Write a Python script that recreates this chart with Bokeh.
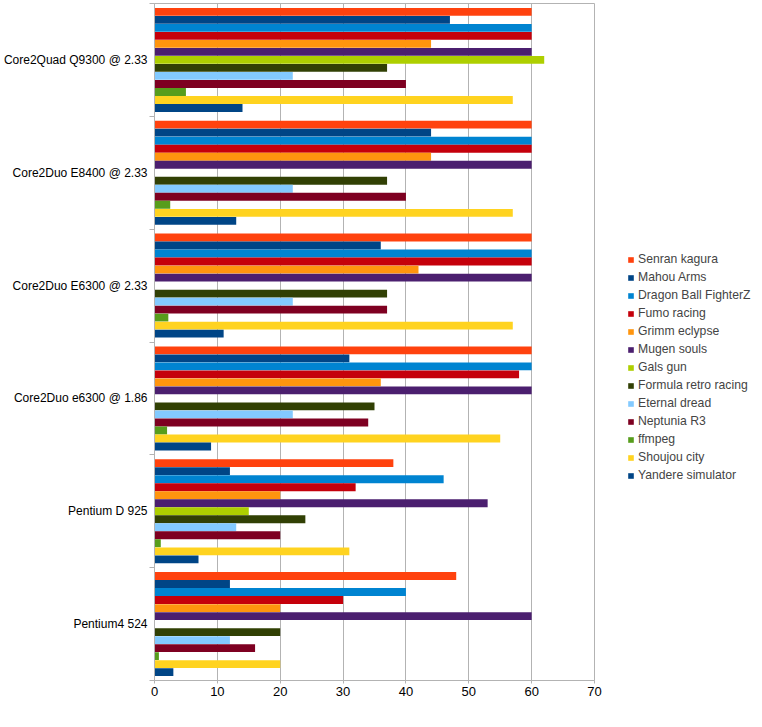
import numpy as np
from bokeh.plotting import figure
from bokeh.models import ColumnDataSource, FixedTicker, Legend, LegendItem
from bokeh.embed import file_html
from bokeh.resources import INLINE

# procesorji od zgoraj navzdol
cpus = ["Core2Quad Q9300 @ 2.33", "Core2Duo E8400 @ 2.33", "Core2Duo E6300 @ 2.33",
        "Core2Duo e6300 @ 1.86", "Pentium D 925", "Pentium4 524"]

games = ["Senran kagura", "Mahou Arms", "Dragon Ball FighterZ", "Fumo racing",
         "Grimm eclypse", "Mugen souls", "Gals gun", "Formula retro racing",
         "Eternal dread", "Neptunia R3", "ffmpeg", "Shoujou city", "Yandere simulator"]

barve = ["#ff420e", "#004586", "#0084d1", "#c5000b", "#ff950e", "#4b1f6f", "#aecf00",
         "#314004", "#83caff", "#7e0021", "#579d1c", "#ffd320", "#004586"]

# fps po igrah (vrstni red kot cpus), None = ni podatka
senran = [60, 60, 60, 60, 38, 48]
mahou = [47, 44, 36, 31, 12, 12]
dbfz = [60, 60, 60, 60, 46, 40]
fumo = [60, 60, 60, 58, 32, 30]
grimm = [44, 44, 42, 36, 20, 20]
mugen = [60, 60, 60, 60, 53, 60]
gals = [62, None, None, None, 15, None]
formula = [37, 37, 37, 35, 24, 20]
eternal = [22, 22, 22, 22, 13, 12]
neptunia = [40, 40, 37, 34, 20, 16]
ffmpeg = [5, 2.5, 2.2, 2, 1, 0.7]
shoujou = [57, 57, 57, 55, 31, 20]
yandere = [14, 13, 11, 9, 7, 3]

vrednosti = [senran, mahou, dbfz, fumo, grimm, mugen, gals, formula,
             eternal, neptunia, ffmpeg, shoujou, yandere]

n_cpu = len(cpus)
n_game = len(games)
visina = 0.071  # debelina enega stolpca v enotah skupine

p = figure(width=746, height=701, frame_width=440, frame_height=677,
           x_range=(0, 70), y_range=(0, n_cpu),
           output_backend="svg", toolbar_location=None,
           min_border_left=149, min_border_right=157,
           min_border_top=3, min_border_bottom=21)

# skupina 0 je zgoraj
centri = np.array([n_cpu - 0.5 - i for i in range(n_cpu)])

items = []
for j, (ime, vals, barva) in enumerate(zip(games, vrednosti, barve)):
    odmik = (n_game - 1) / 2 * visina - j * visina
    v = np.array([np.nan if x is None else x for x in vals], dtype=float)
    src = ColumnDataSource(data=dict(y=centri + odmik, x=v))
    r = p.hbar(y='y', right='x', left=0, height=visina * 0.98, source=src,
               fill_color=barva, line_color=None)
    items.append(LegendItem(label=ime, renderers=[r]))

siva = "#b3b3b3"
p.outline_line_color = siva
p.background_fill_color = "white"
p.border_fill_color = "white"

p.xaxis.ticker = FixedTicker(ticks=list(range(0, 80, 10)))
p.xgrid.grid_line_color = siva
p.ygrid.grid_line_color = None
p.xaxis.axis_line_color = siva
p.xaxis.major_tick_line_color = siva
p.xaxis.major_tick_out = 3
p.xaxis.major_tick_in = 0
p.xaxis.minor_tick_line_color = None
p.xaxis.major_label_text_font = "Liberation Sans"
p.xaxis.major_label_text_font_size = "13px"
p.xaxis.major_label_text_color = "black"
p.xaxis.major_label_standoff = 3

p.yaxis.ticker = FixedTicker(ticks=list(centri), minor_ticks=list(range(0, n_cpu + 1)))
p.yaxis.major_label_overrides = {float(c): cpus[i] for i, c in enumerate(centri)}
p.yaxis.axis_line_color = siva
p.yaxis.major_tick_line_color = None
p.yaxis.major_tick_out = 3
p.yaxis.major_tick_in = 0
p.yaxis.minor_tick_line_color = siva
p.yaxis.minor_tick_out = 5
p.yaxis.minor_tick_in = 0
p.yaxis.major_label_text_font = "Liberation Sans"
p.yaxis.major_label_text_font_size = "12px"
p.yaxis.major_label_text_color = "black"
p.yaxis.major_label_standoff = 2

# legenda desno od okvirja
legend = Legend(items=items, location=(33, 198))
legend.label_text_font = "Liberation Sans"
legend.label_text_font_size = "12.2px"
legend.label_height = 13
legend.glyph_height = 7
legend.glyph_width = 7
legend.spacing = 4
legend.padding = 0
legend.margin = 0
legend.border_line_color = None
legend.background_fill_alpha = 0
legend.label_standoff = 4
p.add_layout(legend, "right")

open("out.html", "w").write(file_html(p, INLINE))
